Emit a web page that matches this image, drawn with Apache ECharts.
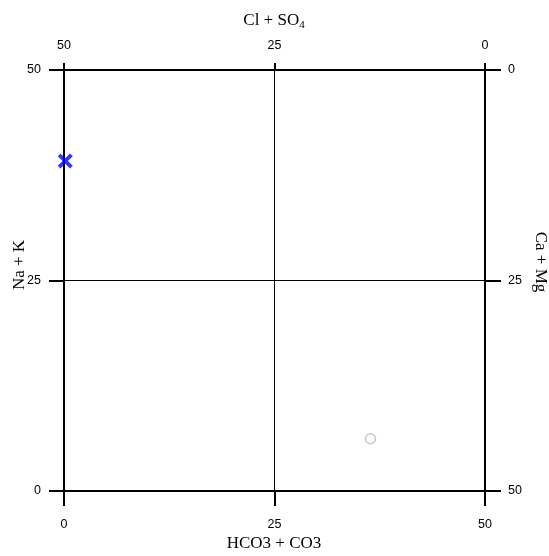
<!DOCTYPE html>
<html>
<head>
<meta charset="utf-8">
<script src="https://cdn.jsdelivr.net/npm/echarts@6/dist/echarts.min.js"></script>
<style>
html,body{margin:0;padding:0;background:#fff;}
#chart{width:549px;height:556px;}
</style>
</head>
<body>
<div id="chart"></div>
<script>
// Data
const bottomAxisName = 'HCO3 + CO3';
const topAxisName = 'Cl + SO';
const topAxisSub = '4';
const leftAxisName = 'Na + K';
const rightAxisName = 'Ca + Mg';
const axisMin = 0;
const axisMax = 50;
const axisStep = 25;
const crossPoints = [[0.15, 39.2]];
const circlePoints = [[36.4, 6.2]];

const chart = echarts.init(document.getElementById('chart'), null, {renderer: 'canvas'});
const labelFont = {fontFamily: 'Liberation Sans, Arial, sans-serif', fontSize: 12.5, color: '#000'};
const lineStyle = {color: '#000', width: 2};
const tickStyle = {color: '#000', width: 2};
const crossPath = 'path://M1.8,0 L5,3.2 L8.2,0 L10,1.8 L6.8,5 L10,8.2 L8.2,10 L5,6.8 L1.8,10 L0,8.2 L3.2,5 L0,1.8 Z';

const option = {
  animation: false,
  backgroundColor: '#fff',
  grid: {left: 64, top: 70, width: 421, height: 421, containLabel: false},
  xAxis: [
    {type: 'value', position: 'bottom', min: axisMin, max: axisMax, interval: axisStep,
     axisLine: {show: true, onZero: false, lineStyle: lineStyle},
     axisTick: {show: true, length: 15, lineStyle: tickStyle},
     axisLabel: Object.assign({margin: 27}, labelFont),
     splitLine: {show: true, lineStyle: {color: '#000', width: 1}}},
    {type: 'value', position: 'top', inverse: true, min: axisMin, max: axisMax, interval: axisStep,
     axisLine: {show: true, onZero: false, lineStyle: lineStyle},
     axisTick: {show: true, length: 7, lineStyle: tickStyle},
     axisLabel: Object.assign({margin: 18}, labelFont),
     splitLine: {show: false}}
  ],
  yAxis: [
    {type: 'value', position: 'left', min: axisMin, max: axisMax, interval: axisStep,
     axisLine: {show: true, onZero: false, lineStyle: lineStyle},
     axisTick: {show: true, length: 15, lineStyle: tickStyle},
     axisLabel: Object.assign({margin: 23}, labelFont),
     splitLine: {show: true, lineStyle: {color: '#000', width: 1}}},
    {type: 'value', position: 'right', inverse: true, min: axisMin, max: axisMax, interval: axisStep,
     axisLine: {show: true, onZero: false, lineStyle: lineStyle},
     axisTick: {show: true, length: 16, lineStyle: tickStyle},
     axisLabel: Object.assign({margin: 23}, labelFont),
     splitLine: {show: false}}
  ],
  series: [
    {type: 'scatter', xAxisIndex: 0, yAxisIndex: 0, data: circlePoints,
     symbol: 'circle', symbolSize: 10,
     itemStyle: {color: '#fff', borderColor: '#bbbbbb', borderWidth: 1.5}},
    {type: 'scatter', xAxisIndex: 0, yAxisIndex: 0, data: crossPoints,
     symbol: crossPath, symbolSize: 15,
     itemStyle: {color: '#0000ff'}}
  ],
  graphic: [
    {type: 'text', x: 274, y: 21, style: {
      text: '{a|' + topAxisName + '}{b|' + topAxisSub + '}',
      align: 'center', verticalAlign: 'middle',
      rich: {
        a: {fontFamily: 'Liberation Serif, Times New Roman, serif', fontSize: 17, fill: '#000'},
        b: {fontFamily: 'Liberation Serif, Times New Roman, serif', fontSize: 11, fill: '#000', padding: [8, 0, 0, 0]}
      }}},
    {type: 'text', x: 274, y: 544, style: {
      text: bottomAxisName, align: 'center', verticalAlign: 'middle',
      fontFamily: 'Liberation Serif, Times New Roman, serif', fontSize: 17, fill: '#000'}},
    {type: 'text', x: 20, y: 265, rotation: Math.PI / 2, style: {
      text: leftAxisName, align: 'center', verticalAlign: 'middle',
      fontFamily: 'Liberation Serif, Times New Roman, serif', fontSize: 17, fill: '#000'}},
    {type: 'text', x: 540, y: 262, rotation: -Math.PI / 2, style: {
      text: rightAxisName, align: 'center', verticalAlign: 'middle',
      fontFamily: 'Liberation Serif, Times New Roman, serif', fontSize: 17, fill: '#000'}}
  ]
};
chart.setOption(option);
</script>
</body>
</html>
